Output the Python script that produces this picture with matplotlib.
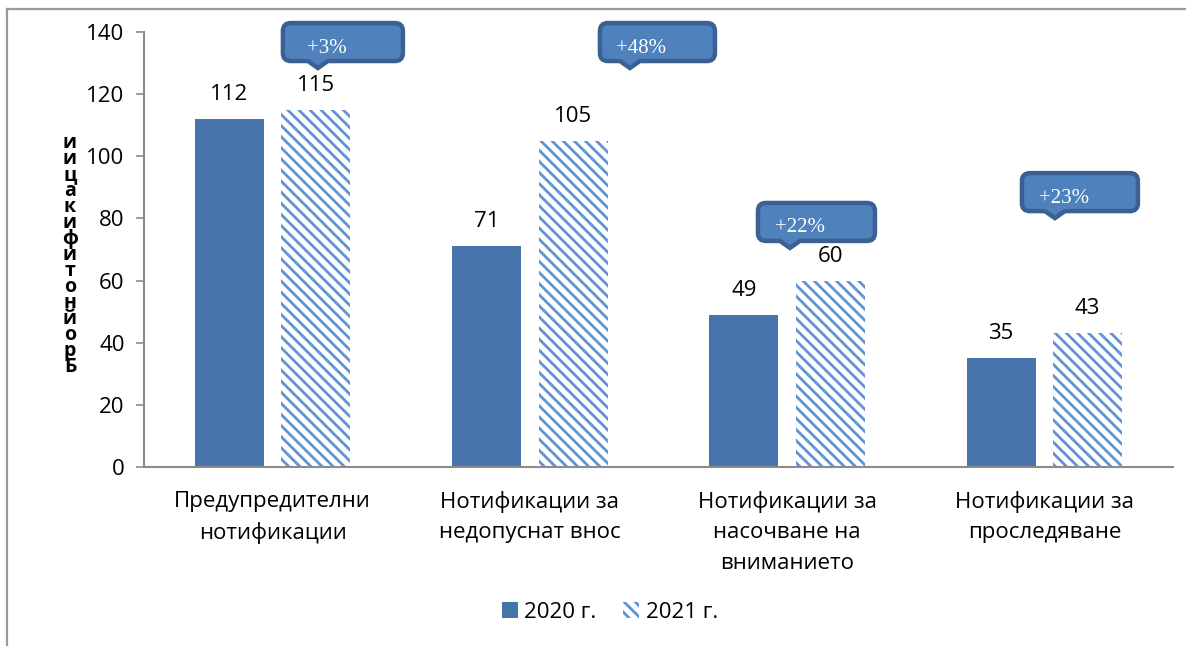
import matplotlib
matplotlib.use("Agg")
import matplotlib.pyplot as plt
import numpy as np
from matplotlib.path import Path
from matplotlib.patches import PathPatch
from matplotlib.lines import Line2D
import matplotlib.transforms as mtransforms

# ---------------- data ----------------
categories = ["Предупредителни\nнотификации",
              "Нотификации за\nнедопуснат внос",
              "Нотификации за\nнасочване на\nвниманието",
              "Нотификации за\nпроследяване"]
series_names = ["2020 г.", "2021 г."]
values_2020 = [112, 71, 49, 35]
values_2021 = [115, 105, 60, 43]
y_ticks = [0, 20, 40, 60, 80, 100, 120, 140]
y_label = "Бройнотификации"

# ---------------- style ----------------
FONT = ["Open Sans", "DejaVu Sans"]
plt.rcParams['font.family'] = FONT
plt.rcParams['hatch.linewidth'] = 2.0
C2020 = "#4674AB"
C2021_HATCH = "#6193D3"
GRAY = "#8C8C8C"
FS = 16

W, H = 1186, 646
fig = plt.figure(figsize=(W / 100, H / 100), dpi=100)
ax = fig.add_axes([144 / W, 1 - 467 / H, (1173 - 144) / W, (467 - 32) / H])

x = np.arange(len(categories))
bw = 0.268
off = 0.168
b1 = ax.bar(x - off, values_2020, bw, color=C2020, label=series_names[0], zorder=2)
b2 = ax.bar(x + off, values_2021, bw, facecolor="white", edgecolor=C2021_HATCH,
            hatch="\\\\\\", linewidth=0, label=series_names[1], zorder=2)

for bars, vals in ((b1, values_2020), (b2, values_2021)):
    for r, v in zip(bars, vals):
        ax.annotate(str(v), (r.get_x() + r.get_width() / 2, v), xytext=(0, 14),
                    textcoords="offset pixels", ha="center", va="bottom",
                    fontsize=FS, color="black")

ax.set_xlim(-0.5, len(categories) - 0.5)
ax.set_ylim(0, 140)
ax.set_yticks(y_ticks)
ax.set_xticks(x)
ax.set_xticklabels(categories, fontsize=FS, linespacing=1.6)
ax.tick_params(axis="x", length=0, pad=17)
ax.tick_params(axis="y", length=6, width=1.2, color=GRAY, labelsize=FS, pad=8)
for s in ("top", "right"):
    ax.spines[s].set_visible(False)
for s in ("left", "bottom"):
    ax.spines[s].set_color(GRAY)
    ax.spines[s].set_linewidth(1.5)

# stacked vertical y label
stack = "\n".join(reversed(y_label))
fig.text(70 / W, 1 - 255 / H, stack, ha="center", va="center", fontsize=14,
         fontweight="bold", linespacing=0.73)

# legend
ax.legend(handles=[b1, b2], labels=series_names, loc="center",
          bbox_to_anchor=(610 / W, 1 - 612 / H), bbox_transform=fig.transFigure,
          ncol=2, frameon=False, fontsize=FS, handlelength=0.7, handleheight=0.7,
          handletextpad=0.3, columnspacing=1.2)

# callouts: pointer tip in data coords, box (left offset px, width px)
callout_pos = [(0.176, 128.4, -35, 120), (1.389, 128.4, -30, 115),
               (2.011, 70.5, -32, 117), (3.041, 80.1, -33, 116)]


def callout_path(x0, w, h=38, base=7, r=8, notch=10):
    x1 = x0 + w
    y0, y1 = base, base + h
    verts = [(x0 + r, y0), (-notch, y0), (0, 0), (notch, y0), (x1 - r, y0),
             (x1, y0), (x1, y0 + r), (x1, y1 - r), (x1, y1), (x1 - r, y1),
             (x0 + r, y1), (x0, y1), (x0, y1 - r), (x0, y0 + r), (x0, y0),
             (x0 + r, y0), (x0 + r, y0)]
    codes = [Path.MOVETO, Path.LINETO, Path.LINETO, Path.LINETO, Path.LINETO,
             Path.CURVE3, Path.CURVE3, Path.LINETO, Path.CURVE3, Path.CURVE3,
             Path.LINETO, Path.CURVE3, Path.CURVE3, Path.LINETO, Path.CURVE3,
             Path.CURVE3, Path.CLOSEPOLY]
    return Path(verts, codes)


for (cx, cy, lx, w), v0, v1 in zip(callout_pos, values_2020, values_2021):
    pct = round((v1 - v0) / v0 * 100)
    tr = mtransforms.Affine2D() + mtransforms.ScaledTranslation(cx, cy, ax.transData)
    p = PathPatch(callout_path(lx, w), transform=tr, facecolor="#4F81BD",
                  edgecolor="#3A6192", linewidth=3.2, clip_on=False, zorder=5)
    fig.add_artist(p)
    tx = lx + w / 2 - 16
    ty = 7 + 38 / 2 - 6
    fig.text(tx, ty, f"+{pct}%", transform=tr, ha="center", va="center",
             fontsize=15, color="white", family=["Liberation Serif", "DejaVu Serif"],
             zorder=6)

# outer frame
fig.add_artist(Line2D([7 / W, 1], [1 - 9 / H, 1 - 9 / H], transform=fig.transFigure,
                      color="#9A9A9A", linewidth=1.6))
fig.add_artist(Line2D([7 / W, 7 / W], [0, 1 - 9 / H], transform=fig.transFigure,
                      color="#9A9A9A", linewidth=1.6))

fig.savefig("out.png", dpi=100)
